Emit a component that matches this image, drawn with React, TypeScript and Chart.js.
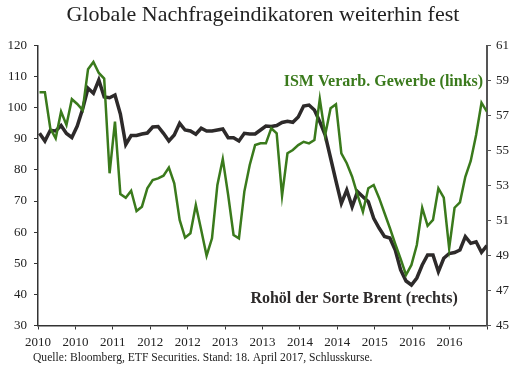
import { useEffect, useRef } from 'react';
import { Chart, registerables } from 'chart.js';

Chart.register(...registerables);

const TITLE = 'Globale Nachfrageindikatoren weiterhin fest';
const ISM_LABEL = 'ISM Verarb. Gewerbe (links)';
const BRENT_LABEL = 'Rohöl der Sorte Brent (rechts)';
const SOURCE = 'Quelle: Bloomberg, ETF Securities. Stand: 18. April 2017, Schlusskurse.';

const XTICK_LABELS = ['2010', '2010', '2011', '2012', '2012', '2013', '2013', '2014', '2014', '2015', '2016', '2016', ''];

// monthly points, April 2010 .. March 2017
const ISM = [
  58.33, 58.33, 56.27, 55.7, 57.22, 56.46, 57.93, 57.66, 57.31, 59.64,
  60.06, 59.43, 59.11, 53.7, 56.65, 52.51, 52.3, 52.7, 51.54, 51.79,
  52.84, 53.31, 53.41, 53.56, 54.02, 53.13, 51.03, 50.02, 50.27, 51.89,
  50.46, 48.99, 49.98, 53.03, 54.51, 52.46, 50.17, 49.98, 52.65, 54.17,
  55.31, 55.41, 55.41, 56.27, 55.98, 52.42, 54.84, 55.03, 55.31, 55.5,
  55.41, 55.6, 57.94, 55.89, 57.41, 57.64, 54.84, 54.27, 53.5, 52.46,
  51.5, 52.84, 53.03, 52.29, 51.43, 50.57, 49.66, 48.8, 47.89, 48.46,
  49.6, 51.73, 50.7, 51.03, 52.84, 52.3, 49.41, 51.73, 52.04, 53.5,
  54.4, 55.89, 57.73, 57.22,
];

const BRENT = [
  91.78, 89.3, 92.74, 92.52, 94.29, 91.71, 90.43, 94.12, 99.59, 106.24,
  104.64, 108.91, 103.45, 103.22, 104.09, 97.98, 88.18, 91.07, 91.07, 91.55,
  91.87, 93.8, 93.96, 91.78, 89.3, 91.23, 94.99, 92.84, 92.52, 91.46,
  93.39, 92.52, 92.52, 92.84, 93.16, 90.36, 90.36, 89.3, 91.78, 91.55,
  91.55, 92.84, 94.12, 93.96, 94.29, 95.25, 95.67, 95.31, 97.02, 100.55,
  100.87, 99.27, 95.51, 91.23, 83.84, 76.44, 69.28, 73.55, 68.18, 73.01,
  71.4, 69.79, 64.46, 61.34, 58.61, 58.12, 54.27, 47.84, 44.3, 43.02,
  45.27, 49.44, 52.66, 52.66, 47.29, 51.6, 53.14, 53.46, 54.27, 58.54,
  56.42, 56.93, 53.53, 55.65,
];

const X_MIN = -0.28;
const X_MAX = 83.02;

const GREEN = '#3a7a1c';
const DARK = '#2d2a2a';
const AXIS = '#333333';
const FONT = '"Liberation Serif", "Times New Roman", serif';

const textPlugin = {
  id: 'chartTexts',
  afterDatasetsDraw(chart: any) {
    const { ctx, scales } = chart;
    ctx.save();
    ctx.font = `bold 16px ${FONT}`;
    ctx.textAlign = 'right';
    ctx.textBaseline = 'middle';
    ctx.fillStyle = GREEN;
    ctx.fillText(ISM_LABEL, scales.x.getPixelForValue(82.3), scales.y1.getPixelForValue(58.9));
    ctx.fillStyle = DARK;
    ctx.fillText(BRENT_LABEL, scales.x.getPixelForValue(77.6), scales.y.getPixelForValue(38.5));
    ctx.font = `11.6px ${FONT}`;
    ctx.textAlign = 'left';
    ctx.fillStyle = '#222';
    ctx.fillText(SOURCE, 33, 358);
    ctx.restore();
  },
};

export default function App() {
  const ref = useRef<HTMLCanvasElement | null>(null);

  useEffect(() => {
    if (!ref.current) return;
    const tickFont = { family: FONT, size: 13 };
    const chart = new Chart(ref.current, {
      type: 'line',
      data: {
        datasets: [
          {
            label: ISM_LABEL,
            data: ISM.map((v, i) => ({ x: i, y: v })),
            yAxisID: 'y1',
            borderColor: GREEN,
            borderWidth: 2.5,
            pointRadius: 0,
            tension: 0,
            fill: false,
          },
          {
            label: BRENT_LABEL,
            data: BRENT.map((v, i) => ({ x: i, y: v })),
            yAxisID: 'y',
            borderColor: DARK,
            borderWidth: 3.5,
            pointRadius: 0,
            tension: 0,
            fill: false,
          },
        ],
      },
      options: {
        animation: false,
        responsive: true,
        maintainAspectRatio: false,
        layout: { padding: { top: 0, bottom: 26.5, left: 0, right: 0 } },
        plugins: {
          legend: { display: false },
          tooltip: { enabled: false },
          title: {
            display: true,
            text: TITLE,
            color: '#222',
            font: { family: FONT, size: 22, weight: 'normal' },
            padding: { top: 2, bottom: 17.1 },
          },
        },
        scales: {
          x: {
            type: 'linear',
            min: X_MIN,
            max: X_MAX,
            afterBuildTicks: (s: any) => {
              s.ticks = XTICK_LABELS.map((_, k) => ({ value: X_MIN + (k * (X_MAX - X_MIN)) / 12 }));
            },
            afterFit: (s: any) => {
              s.height = 25;
            },
            ticks: {
              autoSkip: false,
              maxRotation: 0,
              padding: 5,
              color: '#222',
              font: tickFont,
              callback: (_v: any, idx: number) => XTICK_LABELS[idx] ?? '',
            },
            grid: { drawOnChartArea: false, drawTicks: true, tickLength: 4, color: AXIS, lineWidth: 1 },
            border: { display: true, color: AXIS, width: 1.5 },
          },
          y: {
            position: 'left',
            min: 30,
            max: 120,
            afterFit: (s: any) => {
              s.width = 38;
            },
            ticks: { stepSize: 10, padding: 7, color: '#222', font: tickFont },
            grid: { drawOnChartArea: false, drawTicks: true, tickLength: 4, color: AXIS, lineWidth: 1 },
            border: { display: true, color: AXIS, width: 1.5 },
          },
          y1: {
            position: 'right',
            min: 45,
            max: 61,
            afterFit: (s: any) => {
              s.width = 39;
            },
            ticks: { stepSize: 2, padding: 5, color: '#222', font: tickFont },
            grid: { drawOnChartArea: false, drawTicks: true, tickLength: 4, color: '#555', lineWidth: 1 },
            border: { display: true, color: '#555', width: 2 },
          },
        },
      },
      plugins: [textPlugin],
    });
    return () => chart.destroy();
  }, []);

  return (
    <div style={{ position: 'fixed', left: 0, top: 0, width: 526, height: 377, background: '#fff' }}>
      <canvas ref={ref} />
    </div>
  );
}
